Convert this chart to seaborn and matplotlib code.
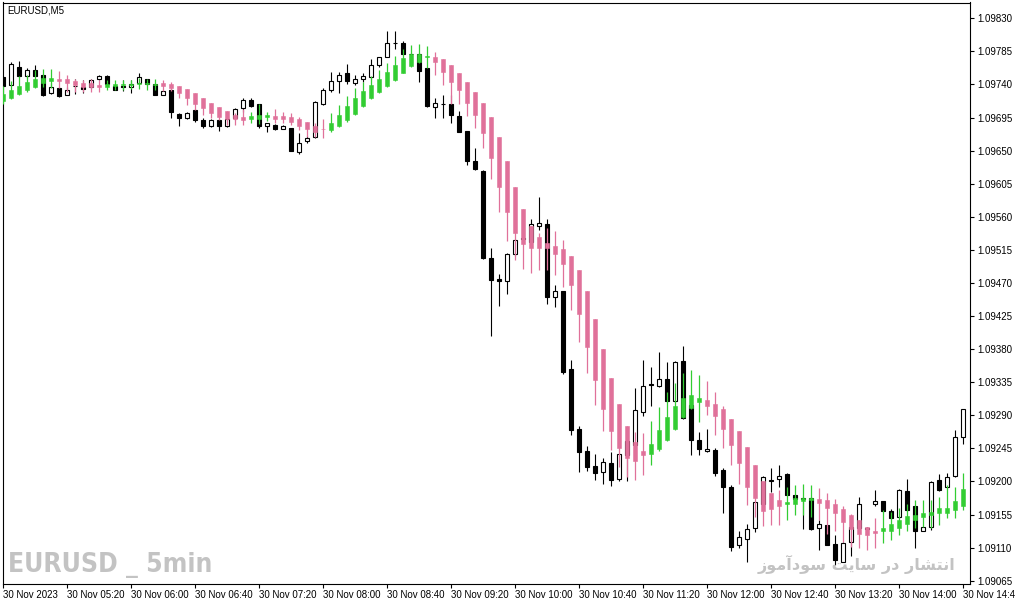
import numpy as np
import matplotlib
matplotlib.use("Agg")
import matplotlib.pyplot as plt
import seaborn as sns

# EURUSD M5 candles, 30 Nov 2023 04:40 .. 14:40 (121 bars)
c_open = [1.09750, 1.09739, 1.09764, 1.09752, 1.09760, 1.09753, 1.09728, 1.09735, 1.09726, 1.09738,
          1.09736, 1.09736, 1.09747, 1.09752, 1.09738, 1.09738, 1.09736, 1.09742, 1.09747, 1.09741,
          1.09726, 1.09732, 1.09700, 1.09694, 1.09705, 1.09692, 1.09684, 1.09692, 1.09684, 1.09695,
          1.09708, 1.09719, 1.09713, 1.09684, 1.09685, 1.09680, 1.09681, 1.09648, 1.09663, 1.09668,
          1.09713, 1.09732, 1.09745, 1.09756, 1.09742, 1.09747, 1.09750, 1.09767, 1.09778, 1.09797,
          1.09797, 1.09782, 1.09782, 1.09762, 1.09710, 1.09714, 1.09713, 1.09697, 1.09677, 1.09636,
          1.09622, 1.09504, 1.09475, 1.09473, 1.09509, 1.09531, 1.09526, 1.09547, 1.09550, 1.09451,
          1.09459, 1.09353, 1.09271, 1.09241, 1.09221, 1.09213, 1.09225, 1.09203, 1.09255, 1.09250,
          1.09295, 1.09332, 1.09330, 1.09339, 1.09309, 1.09364, 1.09304, 1.09256, 1.09241, 1.09243,
          1.09216, 1.09192, 1.09113, 1.09122, 1.09136, 1.09170, 1.09202, 1.09203, 1.09210, 1.09182,
          1.09178, 1.09178, 1.09136, 1.09141, 1.09115, 1.09091, 1.09117, 1.09137, 1.09136, 1.09170,
          1.09173, 1.09160, 1.09151, 1.09187, 1.09167, 1.09133, 1.09138, 1.09202, 1.09192, 1.09207,
          1.09260]
c_high = [1.09752, 1.09771, 1.09772, 1.09762, 1.09767, 1.09754, 1.09742, 1.09736, 1.09736, 1.09748,
          1.09746, 1.09748, 1.09753, 1.09753, 1.09739, 1.09746, 1.09746, 1.09756, 1.09748, 1.09741,
          1.09733, 1.09735, 1.09701, 1.09703, 1.09707, 1.09695, 1.09693, 1.09693, 1.09694, 1.09708,
          1.09722, 1.09721, 1.09713, 1.09688, 1.09686, 1.09685, 1.09681, 1.09674, 1.09670, 1.09718,
          1.09735, 1.09757, 1.09757, 1.09768, 1.09753, 1.09756, 1.09775, 1.09778, 1.09813, 1.09813,
          1.09799, 1.09783, 1.09783, 1.09762, 1.09721, 1.09726, 1.09726, 1.09704, 1.09677, 1.09654,
          1.09623, 1.09518, 1.09482, 1.09511, 1.09530, 1.09533, 1.09557, 1.09587, 1.09557, 1.09467,
          1.09459, 1.09365, 1.09275, 1.09248, 1.09237, 1.09232, 1.09240, 1.09238, 1.09255, 1.09327,
          1.09365, 1.09356, 1.09376, 1.09362, 1.09364, 1.09384, 1.09304, 1.09267, 1.09272, 1.09246,
          1.09218, 1.09195, 1.09132, 1.09142, 1.09172, 1.09207, 1.09218, 1.09222, 1.09211, 1.09182,
          1.09179, 1.09179, 1.09147, 1.09141, 1.09127, 1.09118, 1.09139, 1.09179, 1.09138, 1.09188,
          1.09174, 1.09163, 1.09190, 1.09203, 1.09167, 1.09138, 1.09201, 1.09210, 1.09211, 1.09270,
          1.09298]
c_low = [1.09737, 1.09738, 1.09750, 1.09749, 1.09751, 1.09724, 1.09727, 1.09723, 1.09725, 1.09727,
         1.09729, 1.09735, 1.09746, 1.09739, 1.09732, 1.09731, 1.09729, 1.09741, 1.09739, 1.09725,
         1.09725, 1.09695, 1.09683, 1.09693, 1.09689, 1.09681, 1.09682, 1.09677, 1.09682, 1.09692,
         1.09702, 1.09710, 1.09681, 1.09676, 1.09678, 1.09679, 1.09649, 1.09645, 1.09661, 1.09667,
         1.09712, 1.09730, 1.09729, 1.09741, 1.09739, 1.09743, 1.09748, 1.09764, 1.09777, 1.09788,
         1.09781, 1.09779, 1.09744, 1.09710, 1.09695, 1.09695, 1.09687, 1.09675, 1.09630, 1.09624,
         1.09502, 1.09398, 1.09439, 1.09455, 1.09507, 1.09529, 1.09525, 1.09542, 1.09442, 1.09437,
         1.09346, 1.09263, 1.09213, 1.09214, 1.09202, 1.09197, 1.09194, 1.09200, 1.09200, 1.09247,
         1.09289, 1.09302, 1.09329, 1.09308, 1.09308, 1.09285, 1.09236, 1.09236, 1.09240, 1.09208,
         1.09157, 1.09106, 1.09109, 1.09091, 1.09131, 1.09167, 1.09186, 1.09192, 1.09181, 1.09175,
         1.09135, 1.09134, 1.09107, 1.09113, 1.09086, 1.09090, 1.09098, 1.09136, 1.09127, 1.09166,
         1.09159, 1.09149, 1.09150, 1.09160, 1.09109, 1.09132, 1.09134, 1.09187, 1.09191, 1.09206,
         1.09251]
c_close = [1.09738, 1.09768, 1.09751, 1.09760, 1.09752, 1.09726, 1.09736, 1.09724, 1.09733, 1.09738,
           1.09734, 1.09746, 1.09751, 1.09740, 1.09733, 1.09736, 1.09741, 1.09750, 1.09740, 1.09726,
           1.09731, 1.09703, 1.09695, 1.09701, 1.09691, 1.09684, 1.09692, 1.09683, 1.09693, 1.09707,
           1.09719, 1.09711, 1.09683, 1.09687, 1.09679, 1.09684, 1.09650, 1.09661, 1.09667, 1.09716,
           1.09733, 1.09745, 1.09753, 1.09745, 1.09748, 1.09751, 1.09766, 1.09778, 1.09797, 1.09796,
           1.09782, 1.09781, 1.09759, 1.09711, 1.09715, 1.09714, 1.09698, 1.09676, 1.09636, 1.09625,
           1.09504, 1.09474, 1.09473, 1.09510, 1.09528, 1.09530, 1.09550, 1.09552, 1.09451, 1.09459,
           1.09349, 1.09270, 1.09240, 1.09219, 1.09212, 1.09226, 1.09202, 1.09238, 1.09236, 1.09297,
           1.09330, 1.09331, 1.09339, 1.09309, 1.09362, 1.09286, 1.09256, 1.09244, 1.09244, 1.09211,
           1.09192, 1.09111, 1.09124, 1.09135, 1.09172, 1.09206, 1.09201, 1.09208, 1.09182, 1.09176,
           1.09176, 1.09135, 1.09142, 1.09114, 1.09093, 1.09116, 1.09138, 1.09169, 1.09135, 1.09173,
           1.09160, 1.09150, 1.09188, 1.09161, 1.09133, 1.09138, 1.09199, 1.09188, 1.09206, 1.09260,
           1.09298]

# smoothed Heiken Ashi style overlay (pink = down, green = up)
h_open = [1.09717, 1.09721, 1.09727, 1.09732, 1.09737, 1.09742, 1.09745, 1.09747, 1.09747, 1.09745,
          1.09742, 1.09742, 1.09739, 1.09737, 1.09738, 1.09739, 1.09739, 1.09740, 1.09740, 1.09739,
          1.09742, 1.09741, 1.09738, 1.09734, 1.09728, 1.09722, 1.09715, 1.09709, 1.09704, 1.09698,
          1.09696, 1.09693, 1.09693, 1.09696, 1.09697, 1.09697, 1.09696, 1.09693, 1.09689, 1.09684,
          1.09680, 1.09678, 1.09683, 1.09691, 1.09700, 1.09711, 1.09721, 1.09730, 1.09738, 1.09746,
          1.09756, 1.09765, 1.09771, 1.09777, 1.09778, 1.09775, 1.09767, 1.09756, 1.09743, 1.09730,
          1.09715, 1.09696, 1.09669, 1.09636, 1.09600, 1.09571, 1.09548, 1.09533, 1.09524, 1.09520,
          1.09516, 1.09507, 1.09488, 1.09459, 1.09421, 1.09380, 1.09341, 1.09305, 1.09275, 1.09254,
          1.09241, 1.09238, 1.09244, 1.09256, 1.09271, 1.09287, 1.09300, 1.09308, 1.09311, 1.09306,
          1.09299, 1.09285, 1.09269, 1.09247, 1.09222, 1.09201, 1.09184, 1.09175, 1.09170, 1.09169,
          1.09174, 1.09175, 1.09176, 1.09175, 1.09170, 1.09163, 1.09154, 1.09147, 1.09138, 1.09133,
          1.09132, 1.09133, 1.09137, 1.09142, 1.09147, 1.09152, 1.09154, 1.09157, 1.09157, 1.09161,
          1.09166]
h_high = [1.09738, 1.09745, 1.09751, 1.09753, 1.09760, 1.09761, 1.09761, 1.09758, 1.09753, 1.09748,
          1.09746, 1.09748, 1.09746, 1.09746, 1.09746, 1.09746, 1.09746, 1.09749, 1.09747, 1.09747,
          1.09746, 1.09743, 1.09738, 1.09734, 1.09728, 1.09722, 1.09715, 1.09709, 1.09704, 1.09701,
          1.09707, 1.09703, 1.09713, 1.09703, 1.09707, 1.09703, 1.09701, 1.09696, 1.09689, 1.09687,
          1.09693, 1.09701, 1.09712, 1.09724, 1.09735, 1.09744, 1.09751, 1.09760, 1.09769, 1.09779,
          1.09788, 1.09794, 1.09795, 1.09792, 1.09784, 1.09775, 1.09767, 1.09756, 1.09743, 1.09730,
          1.09715, 1.09696, 1.09669, 1.09636, 1.09600, 1.09571, 1.09548, 1.09538, 1.09545, 1.09541,
          1.09528, 1.09507, 1.09488, 1.09459, 1.09421, 1.09380, 1.09341, 1.09305, 1.09275, 1.09267,
          1.09266, 1.09282, 1.09301, 1.09321, 1.09334, 1.09348, 1.09352, 1.09345, 1.09336, 1.09321,
          1.09302, 1.09285, 1.09269, 1.09247, 1.09222, 1.09201, 1.09184, 1.09189, 1.09192, 1.09195,
          1.09196, 1.09195, 1.09191, 1.09184, 1.09176, 1.09166, 1.09156, 1.09147, 1.09138, 1.09150,
          1.09161, 1.09159, 1.09164, 1.09170, 1.09175, 1.09175, 1.09175, 1.09179, 1.09195, 1.09193,
          1.09212]
h_low = [1.09714, 1.09720, 1.09726, 1.09730, 1.09735, 1.09736, 1.09735, 1.09735, 1.09730, 1.09730,
         1.09730, 1.09730, 1.09730, 1.09732, 1.09732, 1.09732, 1.09734, 1.09734, 1.09733, 1.09733,
         1.09731, 1.09731, 1.09721, 1.09712, 1.09705, 1.09698, 1.09694, 1.09692, 1.09685, 1.09685,
         1.09685, 1.09687, 1.09686, 1.09690, 1.09687, 1.09687, 1.09685, 1.09678, 1.09669, 1.09668,
         1.09667, 1.09676, 1.09682, 1.09689, 1.09699, 1.09710, 1.09720, 1.09729, 1.09737, 1.09745,
         1.09755, 1.09764, 1.09769, 1.09762, 1.09753, 1.09739, 1.09714, 1.09714, 1.09697, 1.09681,
         1.09654, 1.09611, 1.09567, 1.09527, 1.09501, 1.09489, 1.09484, 1.09488, 1.09487, 1.09481,
         1.09464, 1.09433, 1.09390, 1.09347, 1.09304, 1.09269, 1.09243, 1.09220, 1.09206, 1.09202,
         1.09209, 1.09223, 1.09242, 1.09255, 1.09270, 1.09286, 1.09299, 1.09281, 1.09290, 1.09263,
         1.09245, 1.09222, 1.09197, 1.09168, 1.09152, 1.09140, 1.09141, 1.09141, 1.09148, 1.09154,
         1.09154, 1.09152, 1.09148, 1.09129, 1.09132, 1.09118, 1.09111, 1.09109, 1.09107, 1.09109,
         1.09116, 1.09121, 1.09127, 1.09132, 1.09136, 1.09138, 1.09136, 1.09141, 1.09150, 1.09150,
         1.09161]
h_close = [1.09727, 1.09733, 1.09738, 1.09743, 1.09747, 1.09749, 1.09749, 1.09745, 1.09742, 1.09739,
           1.09737, 1.09736, 1.09737, 1.09740, 1.09741, 1.09741, 1.09741, 1.09742, 1.09742, 1.09741,
           1.09738, 1.09735, 1.09729, 1.09721, 1.09714, 1.09708, 1.09701, 1.09696, 1.09693, 1.09693,
           1.09691, 1.09697, 1.09699, 1.09698, 1.09693, 1.09693, 1.09689, 1.09684, 1.09679, 1.09676,
           1.09679, 1.09687, 1.09699, 1.09711, 1.09722, 1.09731, 1.09739, 1.09747, 1.09757, 1.09766,
           1.09776, 1.09782, 1.09782, 1.09779, 1.09770, 1.09757, 1.09744, 1.09732, 1.09715, 1.09698,
           1.09674, 1.09640, 1.09601, 1.09566, 1.09538, 1.09523, 1.09517, 1.09517, 1.09517, 1.09510,
           1.09496, 1.09467, 1.09428, 1.09383, 1.09338, 1.09299, 1.09268, 1.09246, 1.09232, 1.09228,
           1.09236, 1.09251, 1.09270, 1.09288, 1.09303, 1.09314, 1.09318, 1.09314, 1.09302, 1.09289,
           1.09272, 1.09250, 1.09225, 1.09192, 1.09178, 1.09160, 1.09163, 1.09166, 1.09172, 1.09177,
           1.09177, 1.09177, 1.09171, 1.09164, 1.09157, 1.09145, 1.09135, 1.09129, 1.09127, 1.09130,
           1.09136, 1.09142, 1.09148, 1.09153, 1.09155, 1.09157, 1.09159, 1.09164, 1.09164, 1.09173,
           1.09190]

price_ticks = [1.09065, 1.09110, 1.09155, 1.09200, 1.09245, 1.09290, 1.09335, 1.09380, 1.09425,
               1.09470, 1.09515, 1.09560, 1.09605, 1.09650, 1.09695, 1.09740, 1.09785, 1.09830]
time_tick_pos = [0, 8, 16, 24, 32, 40, 48, 56, 64, 72, 80, 88, 96, 104, 112, 120]
time_tick_labels = ["30 Nov 2023", "30 Nov 05:20", "30 Nov 06:00", "30 Nov 06:40", "30 Nov 07:20",
                    "30 Nov 08:00", "30 Nov 08:40", "30 Nov 09:20", "30 Nov 10:00", "30 Nov 10:40",
                    "30 Nov 11:20", "30 Nov 12:00", "30 Nov 12:40", "30 Nov 13:20", "30 Nov 14:00",
                    "30 Nov 14:40"]

sns.set_style("white")
plt.rcParams["font.family"] = ["Liberation Sans", "DejaVu Sans"]

W, H = 1015, 605
fig = plt.figure(figsize=(W / 100, H / 100), dpi=100)
ax = fig.add_axes([2.5 / W, (H - 584) / H, (970 - 2.5) / W, (584 - 2.5) / H])

o = np.array(c_open); hi = np.array(c_high); lo = np.array(c_low); cl = np.array(c_close)
x = np.arange(len(o))

# candles: wick, then body (white = up, black = down)
ax.vlines(x, lo, hi, color="black", lw=0.8, zorder=1)
up = cl > o
ax.bar(x, np.abs(cl - o), bottom=np.minimum(o, cl), width=0.5,
       color=np.where(up, "white", "black"), edgecolor="black", linewidth=0.8, zorder=2)

# overlay bars
ho = np.array(h_open); hh = np.array(h_high); hl = np.array(h_low); hc = np.array(h_close)
hcol = np.where(hc > ho, "#32cd32", "#e0719a")
ax.vlines(x, hl, hh, color=hcol, lw=0.9, zorder=3)
ax.bar(x, np.abs(hc - ho), bottom=np.minimum(ho, hc), width=0.38,
       color=hcol, edgecolor=hcol, linewidth=0.4, zorder=4)

ax.set_xlim(-0.0625, 120.875)
ax.set_ylim(1.090605, 1.098515)

for s in ax.spines.values():
    s.set_color("black")
    s.set_linewidth(0.8)

ax.yaxis.tick_right()
ax.set_yticks(price_ticks)
ax.set_yticklabels([f"{v:.5f}" for v in price_ticks])
ax.set_xticks(time_tick_pos)
ax.set_xticklabels(time_tick_labels)
ax.tick_params(axis="y", which="both", direction="out", length=3, width=0.8, pad=2,
               labelsize=7, colors="black", right=True, left=False)
ax.tick_params(axis="x", which="both", direction="out", length=3, width=0.8, pad=1.5,
               labelsize=7, colors="black", bottom=True)
for lbl in ax.get_xticklabels():
    lbl.set_horizontalalignment("left")

fig.text(7 / W, 1 - 10.5 / H, "EURUSD,M5", fontsize=7, ha="left", va="center", color="black")

fig.text(8 / W, 1 - 565 / H, "EURUSD _ 5min", fontsize=19, fontweight="bold", color="#c3c3c3",
         ha="left", va="center", fontstretch="condensed",
         family=["DejaVu Sans", "Liberation Sans"])

# "انتشار در سایت سودآموز" in shaped presentation forms, visual order
fa_text = ("\uFEAF\uFEEE\uFEE3\uFE81\uFEA9\uFEEE\uFEB3 \uFE96\uFEF3\uFE8E\uFEB3 "
           "\uFEAD\uFEA9 \uFEAD\uFE8E\uFEB8\uFE98\uFEE7\uFE8D")
fig.text(955 / W, 1 - 564 / H, fa_text, fontsize=11.5, fontweight="bold", color="#c3c3c3",
         ha="right", va="center", family=["DejaVu Sans"])

fig.savefig("out.png", dpi=100)
